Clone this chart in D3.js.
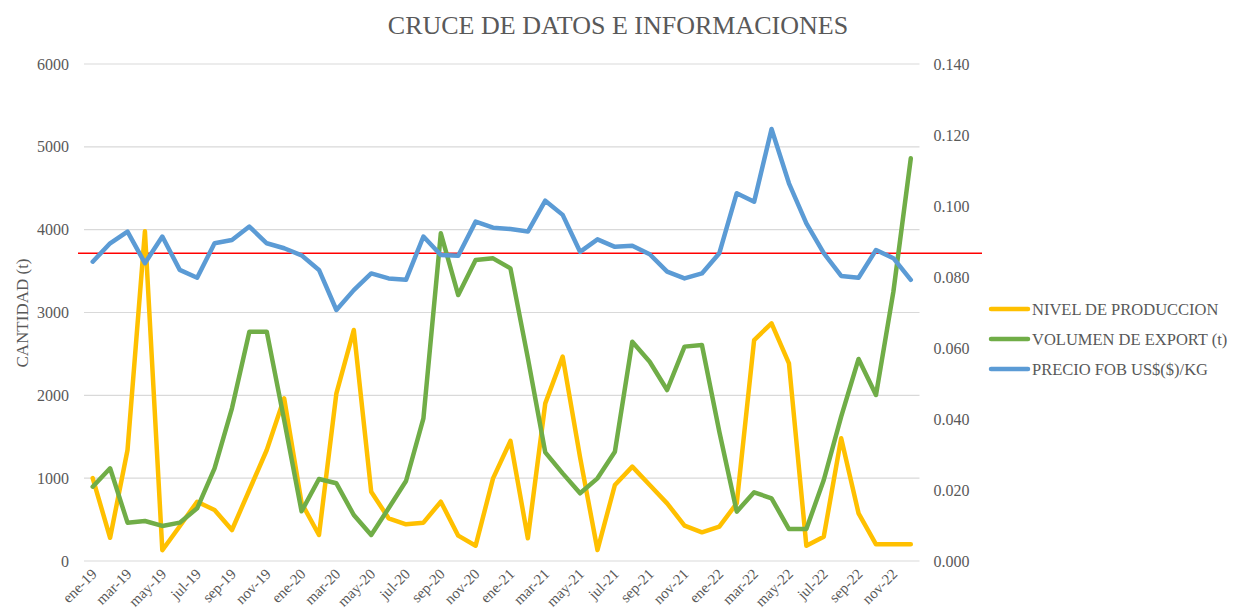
<!DOCTYPE html>
<html>
<head>
<meta charset="utf-8">
<script src="https://cdn.jsdelivr.net/npm/d3@7"></script>
<style>
  body { margin: 0; background: #fff; }
  text { font-family: "Liberation Serif", "DejaVu Serif", serif; fill: #595959; }
</style>
</head>
<body>
<div id="chart"></div>
<script>
var months = [
  "ene-19","feb-19","mar-19","abr-19","may-19","jun-19","jul-19","ago-19","sep-19","oct-19","nov-19","dic-19",
  "ene-20","feb-20","mar-20","abr-20","may-20","jun-20","jul-20","ago-20","sep-20","oct-20","nov-20","dic-20",
  "ene-21","feb-21","mar-21","abr-21","may-21","jun-21","jul-21","ago-21","sep-21","oct-21","nov-21","dic-21",
  "ene-22","feb-22","mar-22","abr-22","may-22","jun-22","jul-22","ago-22","sep-22","oct-22","nov-22","dic-22"
];

var produccion = [
  1000, 280, 1340, 3980, 130, 420, 716, 616, 374, 857, 1340, 1964,
  700, 314, 2024, 2789, 837, 515, 443, 463, 716, 306, 185, 998,
  1450, 274, 1903, 2467, 1250, 133, 917, 1139, 917, 696, 427, 346,
  414, 696, 2668, 2869, 2386, 185, 294, 1481, 575, 201, 201, 201
];

var exportVol = [
  897, 1119, 463, 483, 423, 463, 636, 1119, 1843, 2769, 2769, 1700,
  600, 990, 938, 555, 314, 636, 966, 1722, 3956, 3211, 3634, 3654,
  3533, 2450, 1312, 1058, 817, 998, 1320, 2648, 2406, 2064, 2588, 2608,
  1560, 596, 829, 757, 386, 386, 978, 1742, 2439, 2004, 3252, 4861
];

var precio = [
  0.0843, 0.0895, 0.0928, 0.0839, 0.0914, 0.0820, 0.0798, 0.0895, 0.0904, 0.0942, 0.0895, 0.0881,
  0.0861, 0.0820, 0.0707, 0.0763, 0.0810, 0.0796, 0.0792, 0.0914, 0.0862, 0.0860, 0.0956, 0.0939,
  0.0935, 0.0928, 0.1015, 0.0975, 0.0871, 0.0906, 0.0885, 0.0888, 0.0864, 0.0815, 0.0796, 0.0810,
  0.0867, 0.1036, 0.1012, 0.1217, 0.1064, 0.0951, 0.0867, 0.0803, 0.0798, 0.0876, 0.0853, 0.0792
];

var leftTicks = [0, 1000, 2000, 3000, 4000, 5000, 6000];
var rightTicks = [0, 0.02, 0.04, 0.06, 0.08, 0.10, 0.12, 0.14];
var refValue = 3715;

var seriesNames = ["NIVEL DE PRODUCCION", "VOLUMEN DE EXPORT (t)", "PRECIO FOB US$($)/KG"];
var seriesColors = ["#FFC000", "#70AD47", "#5B9BD5"];

var svgWidth = 1236;
var svgHeight = 616;

var plot = { left: 84, right: 919.5, top: 64, bottom: 561 };

var svg = d3.select("#chart")
  .append("svg")
  .attr("width", svgWidth)
  .attr("height", svgHeight);

var xScale = d3.scaleBand()
  .domain(months)
  .range([plot.left, plot.right]);

var yLeft = d3.scaleLinear()
  .domain([0, 6000])
  .range([plot.bottom, plot.top]);

var yRight = d3.scaleLinear()
  .domain([0, 0.14])
  .range([plot.bottom, plot.top]);

var xMid = d => xScale(d) + xScale.bandwidth() / 2;

// gridlines
svg.append("g")
  .selectAll("line")
  .data(leftTicks)
  .enter()
  .append("line")
  .attr("x1", plot.left)
  .attr("x2", plot.right)
  .attr("y1", d => yLeft(d))
  .attr("y2", d => yLeft(d))
  .attr("stroke", "#D9D9D9")
  .attr("stroke-width", 1.2);

// left axis
var leftAxis = d3.axisLeft(yLeft)
  .tickValues(leftTicks)
  .tickSize(0)
  .tickPadding(15)
  .tickFormat(d3.format("d"));

svg.append("g")
  .attr("transform", `translate(${plot.left}, 0)`)
  .call(leftAxis)
  .call(g => g.select(".domain").remove())
  .selectAll("text")
  .attr("font-size", 16)
  .attr("font-family", "Liberation Serif")
  .attr("fill", "#595959");

// right axis
var rightAxis = d3.axisRight(yRight)
  .tickValues(rightTicks)
  .tickSize(0)
  .tickPadding(14)
  .tickFormat(d3.format(".3f"));

svg.append("g")
  .attr("transform", `translate(${plot.right}, 0)`)
  .call(rightAxis)
  .call(g => g.select(".domain").remove())
  .selectAll("text")
  .attr("font-size", 16)
  .attr("font-family", "Liberation Serif")
  .attr("fill", "#595959");

// x labels, every other month
svg.append("g")
  .selectAll("text")
  .data(months.filter((d, i) => i % 2 == 0))
  .enter()
  .append("text")
  .attr("transform", d => `translate(${xMid(d) + 5}, 575) rotate(-45)`)
  .attr("text-anchor", "end")
  .attr("font-size", 15)
  .text(d => d);

// reference line
svg.append("line")
  .attr("x1", 78)
  .attr("x2", 982)
  .attr("y1", yLeft(refValue))
  .attr("y2", yLeft(refValue))
  .attr("stroke", "#FF0000")
  .attr("stroke-width", 1.3);

var lineLeft = d3.line()
  .x((d, i) => xMid(months[i]))
  .y(d => yLeft(d));

var lineRight = d3.line()
  .x((d, i) => xMid(months[i]))
  .y(d => yRight(d));

svg.append("path")
  .datum(produccion)
  .attr("d", lineLeft)
  .attr("fill", "none")
  .attr("stroke", seriesColors[0])
  .attr("stroke-width", 4.5)
  .attr("stroke-linejoin", "round")
  .attr("stroke-linecap", "round");

svg.append("path")
  .datum(exportVol)
  .attr("d", lineLeft)
  .attr("fill", "none")
  .attr("stroke", seriesColors[1])
  .attr("stroke-width", 4.5)
  .attr("stroke-linejoin", "round")
  .attr("stroke-linecap", "round");

svg.append("path")
  .datum(precio)
  .attr("d", lineRight)
  .attr("fill", "none")
  .attr("stroke", seriesColors[2])
  .attr("stroke-width", 4.5)
  .attr("stroke-linejoin", "round")
  .attr("stroke-linecap", "round");

// title
svg.append("text")
  .attr("x", 618)
  .attr("y", 34)
  .attr("text-anchor", "middle")
  .attr("font-size", 26)
  .text("CRUCE DE DATOS E INFORMACIONES");

// y axis title
svg.append("text")
  .attr("transform", "rotate(-90)")
  .attr("x", -313)
  .attr("y", 28)
  .attr("text-anchor", "middle")
  .attr("font-size", 17)
  .text("CANTIDAD (t)");

// legend
var legend = svg.append("g")
  .selectAll("g")
  .data(seriesNames)
  .enter()
  .append("g")
  .attr("transform", (d, i) => `translate(991, ${309 + i * 30})`);

legend.append("line")
  .attr("x1", 0)
  .attr("x2", 37)
  .attr("stroke", (d, i) => seriesColors[i])
  .attr("stroke-width", 4.5)
  .attr("stroke-linecap", "round");

legend.append("text")
  .attr("x", 41)
  .attr("dy", "0.35em")
  .attr("font-size", 16.5)
  .text(d => d);
</script>
</body>
</html>
